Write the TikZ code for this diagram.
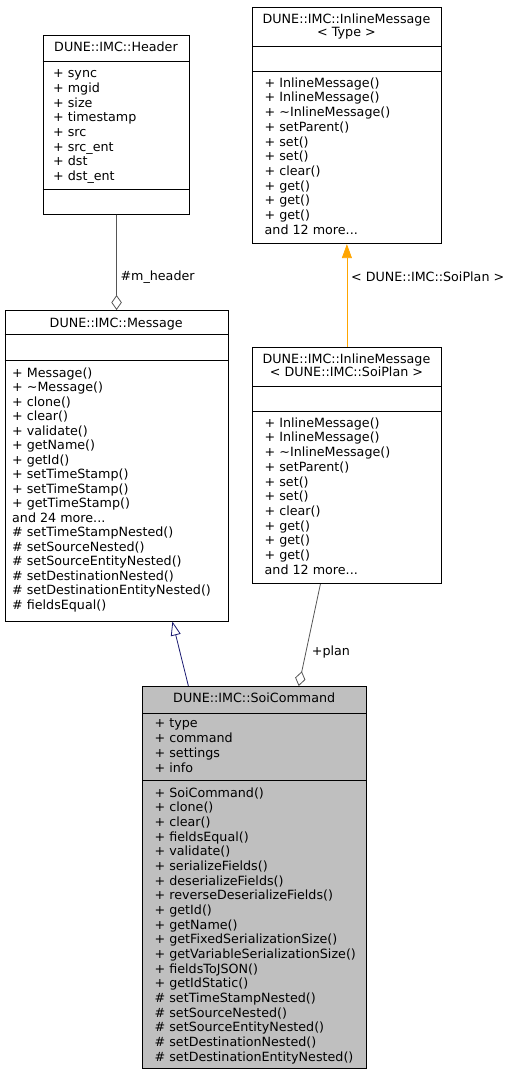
\documentclass[tikz,border=0pt]{standalone}
\usepackage{fontspec}
\setmainfont{DejaVu Sans}
\usetikzlibrary{arrows.meta}
\definecolor{soigray}{HTML}{BFBFBF}
\definecolor{collabgray}{HTML}{555555}
\definecolor{inhnavy}{HTML}{191970}
\definecolor{tmplorange}{HTML}{FFA500}
\newcommand\dfont{\fontsize{12.7}{14.6}\selectfont}
\newcommand\tdots{...}
\newcommand\memberlines[5]{%
  \foreach \t [count=\i from 0] in {#5} {\node[txt] (#1\i) at (#2, {#3+\i*#4+4.4}) {\t};}%
}
\begin{document}
\begin{tikzpicture}[x=1pt,y=-1pt,
  box/.style={draw=black, line width=0.8pt, inner sep=0pt, anchor=north west},
  txt/.style={anchor=base west, inner sep=0pt, font=\dfont},
  ttl/.style={anchor=base, inner sep=0pt, font=\dfont},
  lbl/.style={anchor=west, inner sep=0pt, font=\dfont},
  sep/.style={draw=black, line width=0.8pt},
  collab/.style={draw=collabgray, line width=0.8pt, -{Diamond[open,length=15,width=10.5,line width=0.8pt]}},
  inherit/.style={draw=inhnavy, line width=0.8pt, -{Triangle[open,length=14,width=10,line width=0.8pt]}},
  tmpl/.style={draw=tmplorange, line width=0.8pt, -{Triangle[length=14,width=10]}}]
\useasboundingbox (0,0) rectangle (511,1077);

% Header
\node[box, minimum width=146.6pt, minimum height=178.7pt] (header) at (42.7,35.3) {};
\draw[sep] (header.west |- 0,61.7) -- (header.east |- 0,61.7);
\draw[sep] (header.west |- 0,189.3) -- (header.east |- 0,189.3);
\node[ttl] (headerT) at (116,51.7) {DUNE::IMC::Header};
\memberlines{h}{53}{73.3}{14.67}{+ sync,+ mgid,+ size,+ timestamp,+ src,+ src\_ent,+ dst,+ dst\_ent}

% Message
\node[box, minimum width=223pt, minimum height=310.7pt] (message) at (4.7,310) {};
\draw[sep] (message.west |- 0,334) -- (message.east |- 0,334);
\draw[sep] (message.west |- 0,360) -- (message.east |- 0,360);
\node[ttl] (messageT) at (116.2,327.1) {DUNE::IMC::Message};
\memberlines{m}{12}{372.7}{14.52}{{+ Message()},{+ \textasciitilde Message()},{+ clone()},{+ clear()},{+ validate()},{+ getName()},{+ getId()},{+ setTimeStamp()},{+ setTimeStamp()},{+ getTimeStamp()},{and 24 more\tdots},{\# setTimeStampNested()},{\# setSourceNested()},{\# setSourceEntityNested()},{\# setDestinationNested()},{\# setDestinationEntityNested()},{\# fieldsEqual()}}

% InlineMessage< Type >
\node[box, minimum width=189pt, minimum height=236.6pt] (inlT) at (252,6.7) {};
\draw[sep] (inlT.west |- 0,46.7) -- (inlT.east |- 0,46.7);
\draw[sep] (inlT.west |- 0,71.3) -- (inlT.east |- 0,71.3);
\node[ttl] (inlTa) at (346.5,23.4) {DUNE::IMC::InlineMessage};
\node[ttl] (inlTb) at (346.5,36.7) {< Type >};
\memberlines{t}{264.5}{82.7}{14.73}{{+ InlineMessage()},{+ InlineMessage()},{+ \textasciitilde InlineMessage()},{+ setParent()},{+ set()},{+ set()},{+ clear()},{+ get()},{+ get()},{+ get()},{and 12 more\tdots}}

% InlineMessage< SoiPlan >
\node[box, minimum width=189pt, minimum height=236.6pt] (inlS) at (252,346.7) {};
\draw[sep] (inlS.west |- 0,386.7) -- (inlS.east |- 0,386.7);
\draw[sep] (inlS.west |- 0,411.3) -- (inlS.east |- 0,411.3);
\node[ttl] (inlSa) at (346.5,363.4) {DUNE::IMC::InlineMessage};
\node[ttl] (inlSb) at (346.5,376.7) {< DUNE::IMC::SoiPlan >};
\memberlines{s}{264.5}{422.7}{14.73}{{+ InlineMessage()},{+ InlineMessage()},{+ \textasciitilde InlineMessage()},{+ setParent()},{+ set()},{+ set()},{+ clear()},{+ get()},{+ get()},{+ get()},{and 12 more\tdots}}

% SoiCommand
\node[box, fill=soigray, minimum width=223.7pt, minimum height=382.3pt] (soi) at (142.3,686) {};
\draw[sep] (soi.west |- 0,713.3) -- (soi.east |- 0,713.3);
\draw[sep] (soi.west |- 0,780) -- (soi.east |- 0,780);
\node[ttl] (soiT) at (254.2,702.7) {DUNE::IMC::SoiCommand};
\memberlines{a}{154.5}{723.3}{14.8}{{+ type},{+ command},{+ settings},{+ info}}
\memberlines{c}{154.5}{792.7}{14.67}{{+ SoiCommand()},{+ clone()},{+ clear()},{+ fieldsEqual()},{+ validate()},{+ serializeFields()},{+ deserializeFields()},{+ reverseDeserializeFields()},{+ getId()},{+ getName()},{+ getFixedSerializationSize()},{+ getVariableSerializationSize()},{+ fieldsToJSON()},{+ getIdStatic()},{\# setTimeStampNested()},{\# setSourceNested()},{\# setSourceEntityNested()},{\# setDestinationNested()},{\# setDestinationEntityNested()}}

% connectors
\draw[collab] (header.south) -- (message.north);
\node[lbl] (lhdr) at (120.3,276.7) {\#m\_header};
\draw[tmpl] (inlS.north) -- (inlT.south);
\node[lbl] (ltmpl) at (351,276.7) {< DUNE::IMC::SoiPlan >};
\draw[collab] ([xshift=-26.5pt]inlS.south) -- ([xshift=44.15pt]soi.north);
\node[lbl] (lplan) at (311.7,652.3) {+plan};
\draw[inherit] ([xshift=-66.15pt]soi.north) -- ([xshift=55.8pt]message.south);
\end{tikzpicture}
\end{document}
